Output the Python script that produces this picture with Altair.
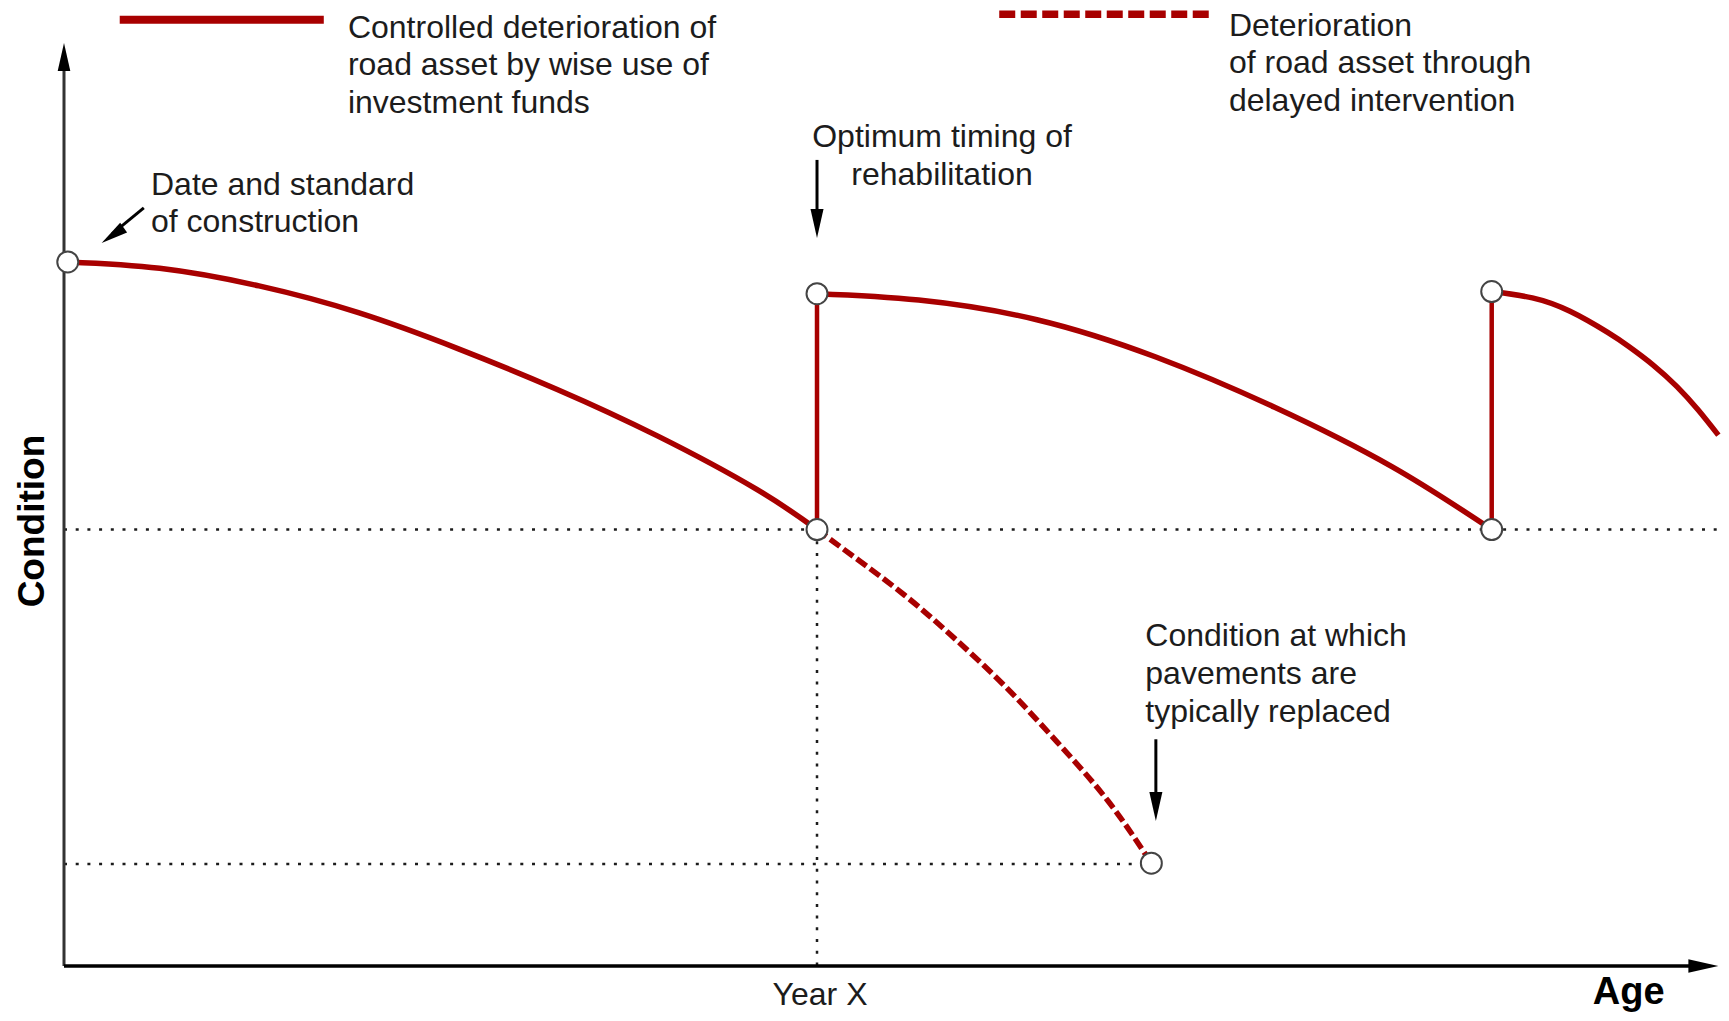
import altair as alt
import pandas as pd

# ---------------- data (Age in years, Condition index) ----------------
# controlled deterioration curves (solid)
c1_age = [0.05, 1.27, 2.59, 3.91, 5.23, 6.55, 7.88, 9.20, 10.0]
c1_cond = [100.0, 99.1, 96.6, 92.8, 87.7, 81.9, 75.3, 67.7, 62.0]
c2_age = [10.0, 11.35, 12.92, 14.50, 16.07, 17.64, 18.96]
c2_cond = [95.5, 94.6, 91.8, 86.5, 79.4, 70.9, 62.0]
c3_age = [18.96, 19.5, 20.0, 20.5, 20.78, 21.1, 21.42, 21.7, 21.97]
c3_cond = [95.8, 94.9, 93.0, 90.0, 88.0, 85.4, 82.3, 79.0, 75.4]
# delayed intervention curve (dashed)
d_age = [10.0, 10.48, 11.16, 11.83, 12.51, 13.19, 13.86, 14.44]
d_cond = [62.0, 58.2, 52.7, 46.5, 39.6, 31.8, 23.5, 14.6]

year_x = 10.0
rehab2 = 18.96
rehab_level = 62.0
replace_level = 14.5
peak1, peak2 = 95.5, 95.8

circle_age = [0.05, 10.0, 10.0, 18.96, 18.96, 14.44]
circle_cond = [100.0, 62.0, 95.5, 62.0, 95.8, 14.6]

# annotation texts
legend1_lines = ["Controlled deterioration of", "road asset by wise use of", "investment funds"]
legend2_lines = ["Deterioration", "of road asset through", "delayed intervention"]
optimum_lines = ["Optimum timing of", "rehabilitation"]
date_lines = ["Date and standard", "of construction"]
replace_lines = ["Condition at which", "pavements are", "typically replaced"]

# ---------------- scales ----------------
W, H = 1713, 1005
XS = alt.Scale(domain=[-0.7437, 22.005], nice=False, zero=False)
YS = alt.Scale(domain=[-6.68, 136.08], nice=False, zero=False)
RED = "#A80000"
INK = "#1c1c1c"
FONT = "Liberation Sans"
FS = 32

def X(f="age"):
    return alt.X(f"{f}:Q", scale=XS, axis=None)

def Y(f="cond"):
    return alt.Y(f"{f}:Q", scale=YS, axis=None)

# ---------------- frames ----------------
solid = pd.DataFrame(
    [{"seg": "a", "age": a, "cond": c} for a, c in zip(c1_age, c1_cond)]
    + [{"seg": "b", "age": a, "cond": c} for a, c in zip(c2_age, c2_cond)]
)
solid3 = pd.DataFrame({"age": c3_age, "cond": c3_cond})
dashed = pd.DataFrame({"age": d_age, "cond": d_cond})
circles = pd.DataFrame({"age": circle_age, "cond": circle_cond})

dotted = pd.DataFrame([
    {"age": 0.0, "age2": 22.005, "cond": rehab_level, "cond2": rehab_level},
    {"age": 0.0, "age2": 14.44, "cond": replace_level, "cond2": replace_level},
    {"age": year_x, "age2": year_x, "cond": rehab_level, "cond2": 0.0},
])
jumps = pd.DataFrame([
    {"age": year_x, "age2": year_x, "cond": rehab_level, "cond2": peak1},
    {"age": rehab2, "age2": rehab2, "cond": rehab_level, "cond2": peak2},
])

# dotted reference lines
l_dotted = alt.Chart(dotted).mark_rule(color=INK, strokeWidth=2.5, strokeDash=[3, 8.7]).encode(
    x=X(), x2="age2:Q", y=Y(), y2="cond2:Q")

# axes (shafts)
axes = pd.DataFrame([
    {"age": 0.0, "age2": 0.0, "cond": 0.0, "cond2": 129.3, "w": "y"},
    {"age": 0.0, "age2": 21.78, "cond": 0.0, "cond2": 0.0, "w": "x"},
])
l_yaxis = alt.Chart(axes[axes.w == "y"]).mark_rule(color="#333333", strokeWidth=3).encode(
    x=X(), x2="age2:Q", y=Y(), y2="cond2:Q")
l_xaxis = alt.Chart(axes[axes.w == "x"]).mark_rule(color="#000000", strokeWidth=3.5).encode(
    x=X(), x2="age2:Q", y=Y(), y2="cond2:Q")

# curves
l_solid = alt.Chart(solid).mark_line(color=RED, strokeWidth=5.5, interpolate="natural", clip=True).encode(
    x=X(), y=Y(), detail="seg:N")
l_solid3 = alt.Chart(solid3).mark_line(color=RED, strokeWidth=5.5, interpolate="natural", clip=True).encode(
    x=X(), y=Y())
l_dashed = alt.Chart(dashed).mark_line(color=RED, strokeWidth=5.5, strokeDash=[12, 4.5],
                                       interpolate="natural").encode(x=X(), y=Y())
l_jumps = alt.Chart(jumps).mark_rule(color=RED, strokeWidth=4.5).encode(
    x=X(), x2="age2:Q", y=Y(), y2="cond2:Q")
l_circles = alt.Chart(circles).mark_point(shape="circle", size=440, filled=True, fill="white",
                                          stroke="#444444", strokeWidth=2, opacity=1).encode(x=X(), y=Y())

# legend samples
leg_lines = pd.DataFrame([
    {"age": 0.74, "age2": 3.45, "cond": 134.4, "cond2": 134.4, "k": "solid"},
    {"age": 12.42, "age2": 15.25, "cond": 135.2, "cond2": 135.2, "k": "dash"},
])
l_leg1 = alt.Chart(leg_lines[leg_lines.k == "solid"]).mark_rule(color=RED, strokeWidth=8).encode(
    x=X(), x2="age2:Q", y=Y(), y2="cond2:Q")
l_leg2 = alt.Chart(leg_lines[leg_lines.k == "dash"]).mark_rule(color=RED, strokeWidth=7.5,
                                                               strokeDash=[16, 5.5]).encode(
    x=X(), x2="age2:Q", y=Y(), y2="cond2:Q")

# texts
def rows(lines, age, conds):
    return [{"text": t, "age": age, "cond": c} for t, c in zip(lines, conds)]

left_text = pd.DataFrame(
    rows(legend1_lines, 3.77, [131.8, 126.5, 121.2])
    + rows(legend2_lines, 15.47, [132.1, 126.8, 121.4])
    + rows(date_lines, 1.155, [109.5, 104.3])
    + rows(replace_lines, 14.36, [45.5, 40.1, 34.7])
)
center_text = pd.DataFrame(
    rows(optimum_lines, 11.66, [116.3, 110.9]) + rows(["Year X"], 10.04, [-5.5])
)
l_ltext = alt.Chart(left_text).mark_text(align="left", baseline="alphabetic", font=FONT, fontSize=FS,
                                         color=INK).encode(x=X(), y=Y(), text="text:N")
l_ctext = alt.Chart(center_text).mark_text(align="center", baseline="alphabetic", font=FONT, fontSize=FS,
                                           color=INK).encode(x=X(), y=Y(), text="text:N")
bold_text = pd.DataFrame([{"text": "Age", "age": 20.78, "cond": -5.4}])
l_age = alt.Chart(bold_text).mark_text(align="center", baseline="alphabetic", font=FONT, fontSize=38,
                                       fontWeight="bold", color="#000000").encode(x=X(), y=Y(), text="text:N")
cond_text = pd.DataFrame([{"text": "Condition", "age": -0.41, "cond": 63.2}])
l_cond = alt.Chart(cond_text).mark_text(align="center", baseline="middle", font=FONT, fontSize=37,
                                        fontWeight="bold", angle=270, color="#000000").encode(
    x=X(), y=Y(), text="text:N")

# annotation arrows: shafts
shafts = pd.DataFrame([
    {"age": 10.0, "age2": 10.0, "cond": 114.5, "cond2": 105.0},
    {"age": 1.06, "age2": 0.64, "cond": 107.7, "cond2": 104.0},
    {"age": 14.5, "age2": 14.5, "cond": 32.2, "cond2": 22.5},
])
l_shafts = alt.Chart(shafts).mark_rule(color="#000000", strokeWidth=3).encode(
    x=X(), x2="age2:Q", y=Y(), y2="cond2:Q")

# arrow heads (tip at the data point)
heads = pd.DataFrame([
    {"age": 0.0, "cond": 131.1, "ang": 0, "sz": 784},
    {"age": 21.97, "cond": 0.0, "ang": 90, "sz": 900},
    {"age": 10.0, "cond": 103.4, "ang": 180, "sz": 840},
    {"age": 0.50, "cond": 102.7, "ang": 235, "sz": 720},
    {"age": 14.5, "cond": 20.6, "ang": 180, "sz": 840},
])
HEAD = "M0,0L0.45,2L-0.45,2Z"
l_heads = alt.Chart(heads).mark_point(shape=HEAD, filled=True, color="#000000", opacity=1,
                                      strokeWidth=0).encode(
    x=X(), y=Y(), angle=alt.Angle("ang:Q", scale=None), size=alt.Size("sz:Q", scale=None))

chart = alt.layer(
    l_dotted, l_yaxis, l_xaxis, l_solid, l_solid3, l_dashed, l_jumps, l_circles,
    l_leg1, l_leg2, l_ltext, l_ctext, l_age, l_cond, l_shafts, l_heads,
).properties(
    width=W, height=H, padding=0, autosize=alt.AutoSizeParams(type="none"), background="white"
).configure_view(strokeWidth=0)

chart.save("out.html", embed_options={"renderer": "svg", "actions": False})
